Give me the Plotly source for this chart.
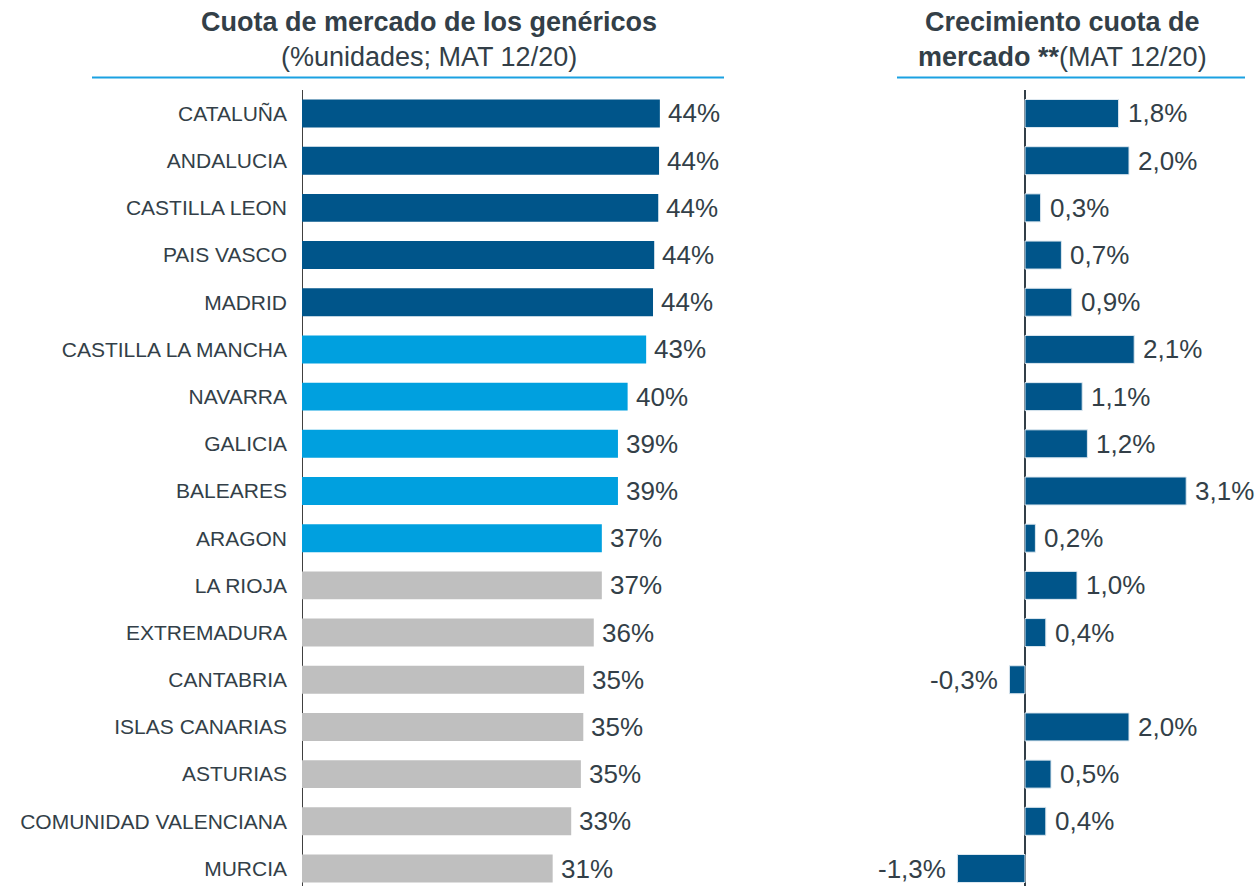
import plotly.graph_objects as go

regiones = ["CATALUÑA", "ANDALUCIA", "CASTILLA LEON", "PAIS VASCO", "MADRID",
            "CASTILLA LA MANCHA", "NAVARRA", "GALICIA", "BALEARES", "ARAGON",
            "LA RIOJA", "EXTREMADURA", "CANTABRIA", "ISLAS CANARIAS", "ASTURIAS",
            "COMUNIDAD VALENCIANA", "MURCIA"]
cuota = [44.4, 44.3, 44.2, 43.7, 43.55, 42.7, 40.4, 39.2, 39.2, 37.2,
         37.2, 36.2, 35.0, 34.9, 34.6, 33.4, 31.1]
cuota_labels = ["44%", "44%", "44%", "44%", "44%", "43%", "40%", "39%", "39%", "37%",
                "37%", "36%", "35%", "35%", "35%", "33%", "31%"]
grupo = ["top"] * 5 + ["mid"] * 5 + ["low"] * 7
crecimiento = [1.8, 2.0, 0.3, 0.7, 0.9, 2.1, 1.1, 1.2, 3.1, 0.2,
               1.0, 0.4, -0.3, 2.0, 0.5, 0.4, -1.3]
crec_labels = ["1,8%", "2,0%", "0,3%", "0,7%", "0,9%", "2,1%", "1,1%", "1,2%", "3,1%", "0,2%",
               "1,0%", "0,4%", "-0,3%", "2,0%", "0,5%", "0,4%", "-1,3%"]

DARK = "#00558A"
LIGHT = "#00A0DF"
GRAY = "#BFBFBF"
TXT = "#333F48"
FONT = "Liberation Sans, Arial, sans-serif"
color_map = {"top": DARK, "mid": LIGHT, "low": GRAY}

W, H = 1258, 886

fig = go.Figure()
fig.add_trace(go.Bar(
    y=regiones, x=cuota, orientation="h",
    marker=dict(color=[color_map[g] for g in grupo], line=dict(width=0)),
    xaxis="x", yaxis="y", hoverinfo="skip"))
fig.add_trace(go.Bar(
    y=regiones, x=crecimiento, orientation="h",
    marker=dict(color=DARK, line=dict(width=1, color="#DDE8F0")),
    xaxis="x2", yaxis="y2", hoverinfo="skip"))

ytop = 113.5 - 23.6
ydom = [0, 1 - ytop / H]
yrange = [(H - 868.5) / 47.19 + 16, -0.5]
fig.update_layout(
    width=W, height=H,
    margin=dict(l=0, r=0, t=0, b=0),
    paper_bgcolor="white", plot_bgcolor="white",
    showlegend=False, bargap=0.407,
    font=dict(family=FONT, color=TXT),
    xaxis=dict(domain=[302/W, 705/W], range=[0, 50],
               showgrid=False, showticklabels=False, ticks="",
               zeroline=True, zerolinecolor="#404040", zerolinewidth=1.2),
    yaxis=dict(domain=ydom, range=yrange, type="category",
               categoryorder="array", categoryarray=regiones,
               showgrid=False, ticks="", ticklabelstandoff=14,
               tickfont=dict(size=21, color=TXT, family=FONT), anchor="x"),
    xaxis2=dict(domain=[950/W, 1250/W], range=[-75/52, 225/52],
                showgrid=False, showticklabels=False, ticks="",
                zeroline=True, zerolinecolor=TXT, zerolinewidth=2, anchor="y2"),
    yaxis2=dict(domain=ydom, range=yrange, type="category",
                categoryorder="array", categoryarray=regiones,
                showgrid=False, showticklabels=False, ticks="", anchor="x2"),
)

for reg, v, lab in zip(regiones, cuota, cuota_labels):
    fig.add_annotation(x=v, y=reg, xref="x", yref="y", text=lab, showarrow=False,
                       xanchor="left", yanchor="middle", xshift=6,
                       font=dict(size=26, color=TXT, family=FONT))
for reg, v, lab in zip(regiones, crecimiento, crec_labels):
    fig.add_annotation(x=v, y=reg, xref="x2", yref="y2", text=lab, showarrow=False,
                       xanchor="left" if v >= 0 else "right", yanchor="middle",
                       xshift=7 if v >= 0 else -9,
                       font=dict(size=26, color=TXT, family=FONT))

def title(x, y, text):
    fig.add_annotation(x=x / W, y=1 - y / H, xref="paper", yref="paper", text=text,
                       showarrow=False, font=dict(size=27, color=TXT, family=FONT),
                       xanchor="center", yanchor="middle")

title(429, 22, "<b>Cuota de mercado de los genéricos</b>")
title(429, 57, "(%unidades; MAT 12/20)")
title(1062, 22, "<b>Crecimiento cuota de</b>")
title(1062, 57, "<b>mercado **</b>(MAT 12/20)")

uy = 1 - 77.5 / H
fig.add_shape(type="line", xref="paper", yref="paper", x0=92/W, x1=724/W, y0=uy, y1=uy,
              line=dict(color="#1BA1E2", width=2))
fig.add_shape(type="line", xref="paper", yref="paper", x0=897/W, x1=1245/W, y0=uy, y1=uy,
              line=dict(color="#1BA1E2", width=2))

fig.write_html("out.html", config={"displayModeBar": False},
               post_script="document.body.style.margin='0';document.body.style.overflow='hidden';")
